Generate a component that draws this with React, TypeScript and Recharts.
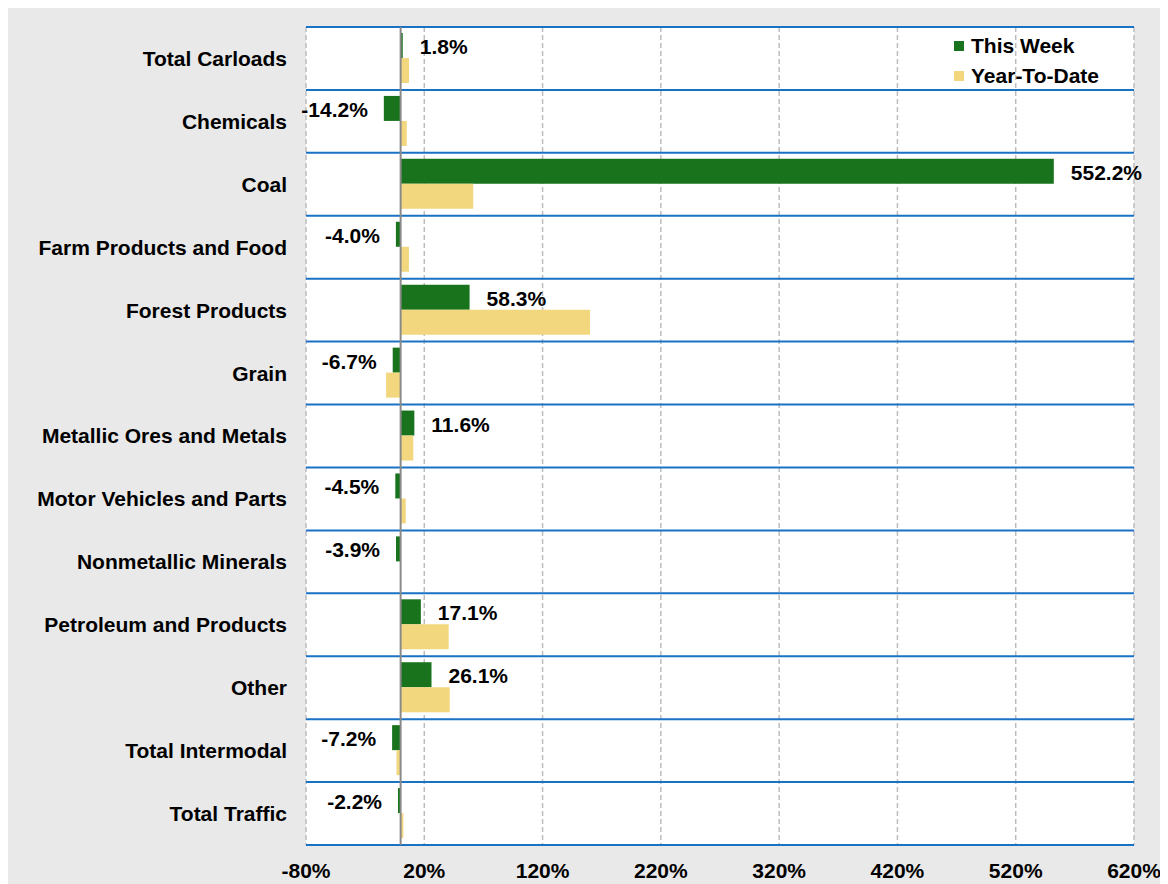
import React from 'react';
import { BarChart, Bar, XAxis, YAxis, CartesianGrid, ReferenceLine, LabelList } from 'recharts';

const categories = [
  'Total Carloads',
  'Chemicals',
  'Coal',
  'Farm Products and Food',
  'Forest Products',
  'Grain',
  'Metallic Ores and Metals',
  'Motor Vehicles and Parts',
  'Nonmetallic Minerals',
  'Petroleum and Products',
  'Other',
  'Total Intermodal',
  'Total Traffic',
];
const thisWeek = [1.8, -14.2, 552.2, -4.0, 58.3, -6.7, 11.6, -4.5, -3.9, 17.1, 26.1, -7.2, -2.2];
const yearToDate = [7.1, 5.2, 61.4, 7.0, 160.1, -12.3, 10.7, 4.3, -0.5, 40.6, 41.5, -3.5, 2.3];
const xTicks = [-80, 20, 120, 220, 320, 420, 520, 620];

const GREEN = '#18731c';
const YELLOW = '#f2d77e';
const BLUE = '#1a72c4';

const data = categories.map((name, i) => ({
  name,
  thisWeek: thisWeek[i],
  yearToDate: yearToDate[i],
}));

const ValueLabel = (props: any) => {
  const { x, y, width, height, value } = props;
  const left = Math.min(x, x + width);
  const right = Math.max(x, x + width);
  const cy = y + height / 2 + 1;
  const neg = value < 0;
  return (
    <text
      x={neg ? left - 16 : right + 17}
      y={cy}
      textAnchor={neg ? 'end' : 'start'}
      dominantBaseline="central"
      fontSize={21}
      fontWeight="bold"
      fill="#000"
    >
      {`${value.toFixed(1)}%`}
    </text>
  );
};

// legend drawn as plain html so it doesn't push the plot down
const LegendBox = () => {
  const items = [
    { label: 'This Week', color: GREEN },
    { label: 'Year-To-Date', color: YELLOW },
  ];
  return (
    <div style={{ position: 'absolute', top: 23, left: 946 }}>
      {items.map((it) => (
        <div key={it.label} style={{ display: 'flex', alignItems: 'center', height: 30 }}>
          <span style={{ width: 10, height: 10, background: it.color, marginRight: 7 }} />
          <span style={{ fontSize: 21, fontWeight: 'bold', color: '#000' }}>{it.label}</span>
        </div>
      ))}
    </div>
  );
};

const App = () => {
  const rows = categories.length;
  return (
    <div
      style={{
        position: 'relative',
        width: 1160,
        height: 876,
        background: '#e9e9e9',
        fontFamily: '"Liberation Sans", Arial, sans-serif',
      }}
    >
      <BarChart
        width={1160}
        height={876}
        data={data}
        layout="vertical"
        margin={{ top: 19, right: 34, bottom: 0, left: 0 }}
        barGap={0}
        barSize={25}
      >
        <CartesianGrid
          horizontal={false}
          stroke="#bdbdbd"
          strokeWidth={1.5}
          strokeDasharray="5 3"
          fill="#fff"
        />
        <CartesianGrid
          vertical={false}
          stroke={BLUE}
          strokeWidth={2}
          horizontalCoordinatesGenerator={({ offset }: any) =>
            Array.from({ length: rows + 1 }, (_, i) => offset.top + (i * offset.height) / rows)
          }
        />
        <XAxis
          type="number"
          domain={[-80, 620]}
          ticks={xTicks}
          tickFormatter={(v) => `${v}%`}
          axisLine={false}
          tickLine={false}
          tickSize={0}
          tickMargin={18}
          height={39}
          interval={0}
          tick={{ fill: '#000', fontSize: 21, fontWeight: 'bold' }}
        />
        <YAxis
          type="category"
          dataKey="name"
          width={298}
          axisLine={false}
          tickLine={false}
          tickSize={0}
          tickMargin={19}
          interval={0}
          tick={{ fill: '#000', fontSize: 21, fontWeight: 'bold' }}
        />
        <Bar dataKey="thisWeek" name="This Week" fill={GREEN} isAnimationActive={false}>
          <LabelList dataKey="thisWeek" content={<ValueLabel />} />
        </Bar>
        <Bar dataKey="yearToDate" name="Year-To-Date" fill={YELLOW} isAnimationActive={false} />
        <ReferenceLine x={0} stroke="#8a8a8a" strokeWidth={2} />
      </BarChart>
      <LegendBox />
    </div>
  );
};

export default App;
